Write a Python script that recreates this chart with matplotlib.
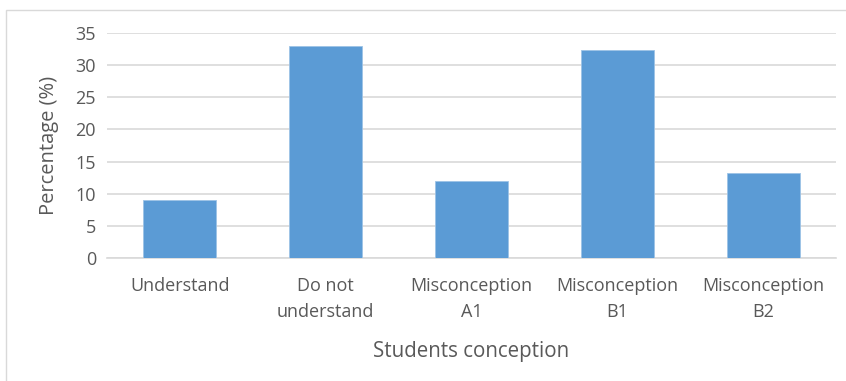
import matplotlib
matplotlib.use("Agg")
import matplotlib.pyplot as plt
from matplotlib.patches import Rectangle

categories = ["Understand", "Do not\nunderstand", "Misconception\nA1", "Misconception\nB1", "Misconception\nB2"]
values = [9.1, 33.0, 12.0, 32.3, 13.2]
yticks = [0, 5, 10, 15, 20, 25, 30, 35]

plt.rcParams['font.family'] = ['Open Sans', 'DejaVu Sans']
W, H = 846, 381
fig = plt.figure(figsize=(W / 100, H / 100), dpi=100)
ax = fig.add_axes([107 / W, 1 - 258 / H, (836 - 107) / W, (258 - 33) / H])

x = list(range(len(categories)))
ax.bar(x, values, width=0.5, color="#5B9BD5", edgecolor="#9DC3E6", linewidth=0.6, zorder=3)
ax.set_xlim(-0.5, len(categories) - 0.5)
ax.set_ylim(0, 35)
ax.set_yticks(yticks)
ax.yaxis.grid(True, color="#D9D9D9", linewidth=1.2, zorder=0)
ax.set_xticks(x)
ax.set_xticklabels(categories, linespacing=1.55)
ax.tick_params(axis="both", length=0, labelcolor="#595959", labelsize=13)
ax.tick_params(axis="y", pad=8)
ax.tick_params(axis="x", pad=14)
for s in ["top", "right", "left"]:
    ax.spines[s].set_visible(False)
ax.spines["bottom"].set_color("#D9D9D9")
ax.spines["bottom"].set_linewidth(1.2)

ax.set_ylabel("Percentage (%)", fontsize=14.5, color="#595959", labelpad=12)
ax.set_xlabel("Students conception", fontsize=14.8, color="#595959", labelpad=14)

fig.patches.append(Rectangle((6 / W, -0.1), 1.1, 1.1 - 10 / H, transform=fig.transFigure,
                             fill=False, edgecolor="#D9D9D9", linewidth=1.0))

fig.savefig("out.png", dpi=100)
